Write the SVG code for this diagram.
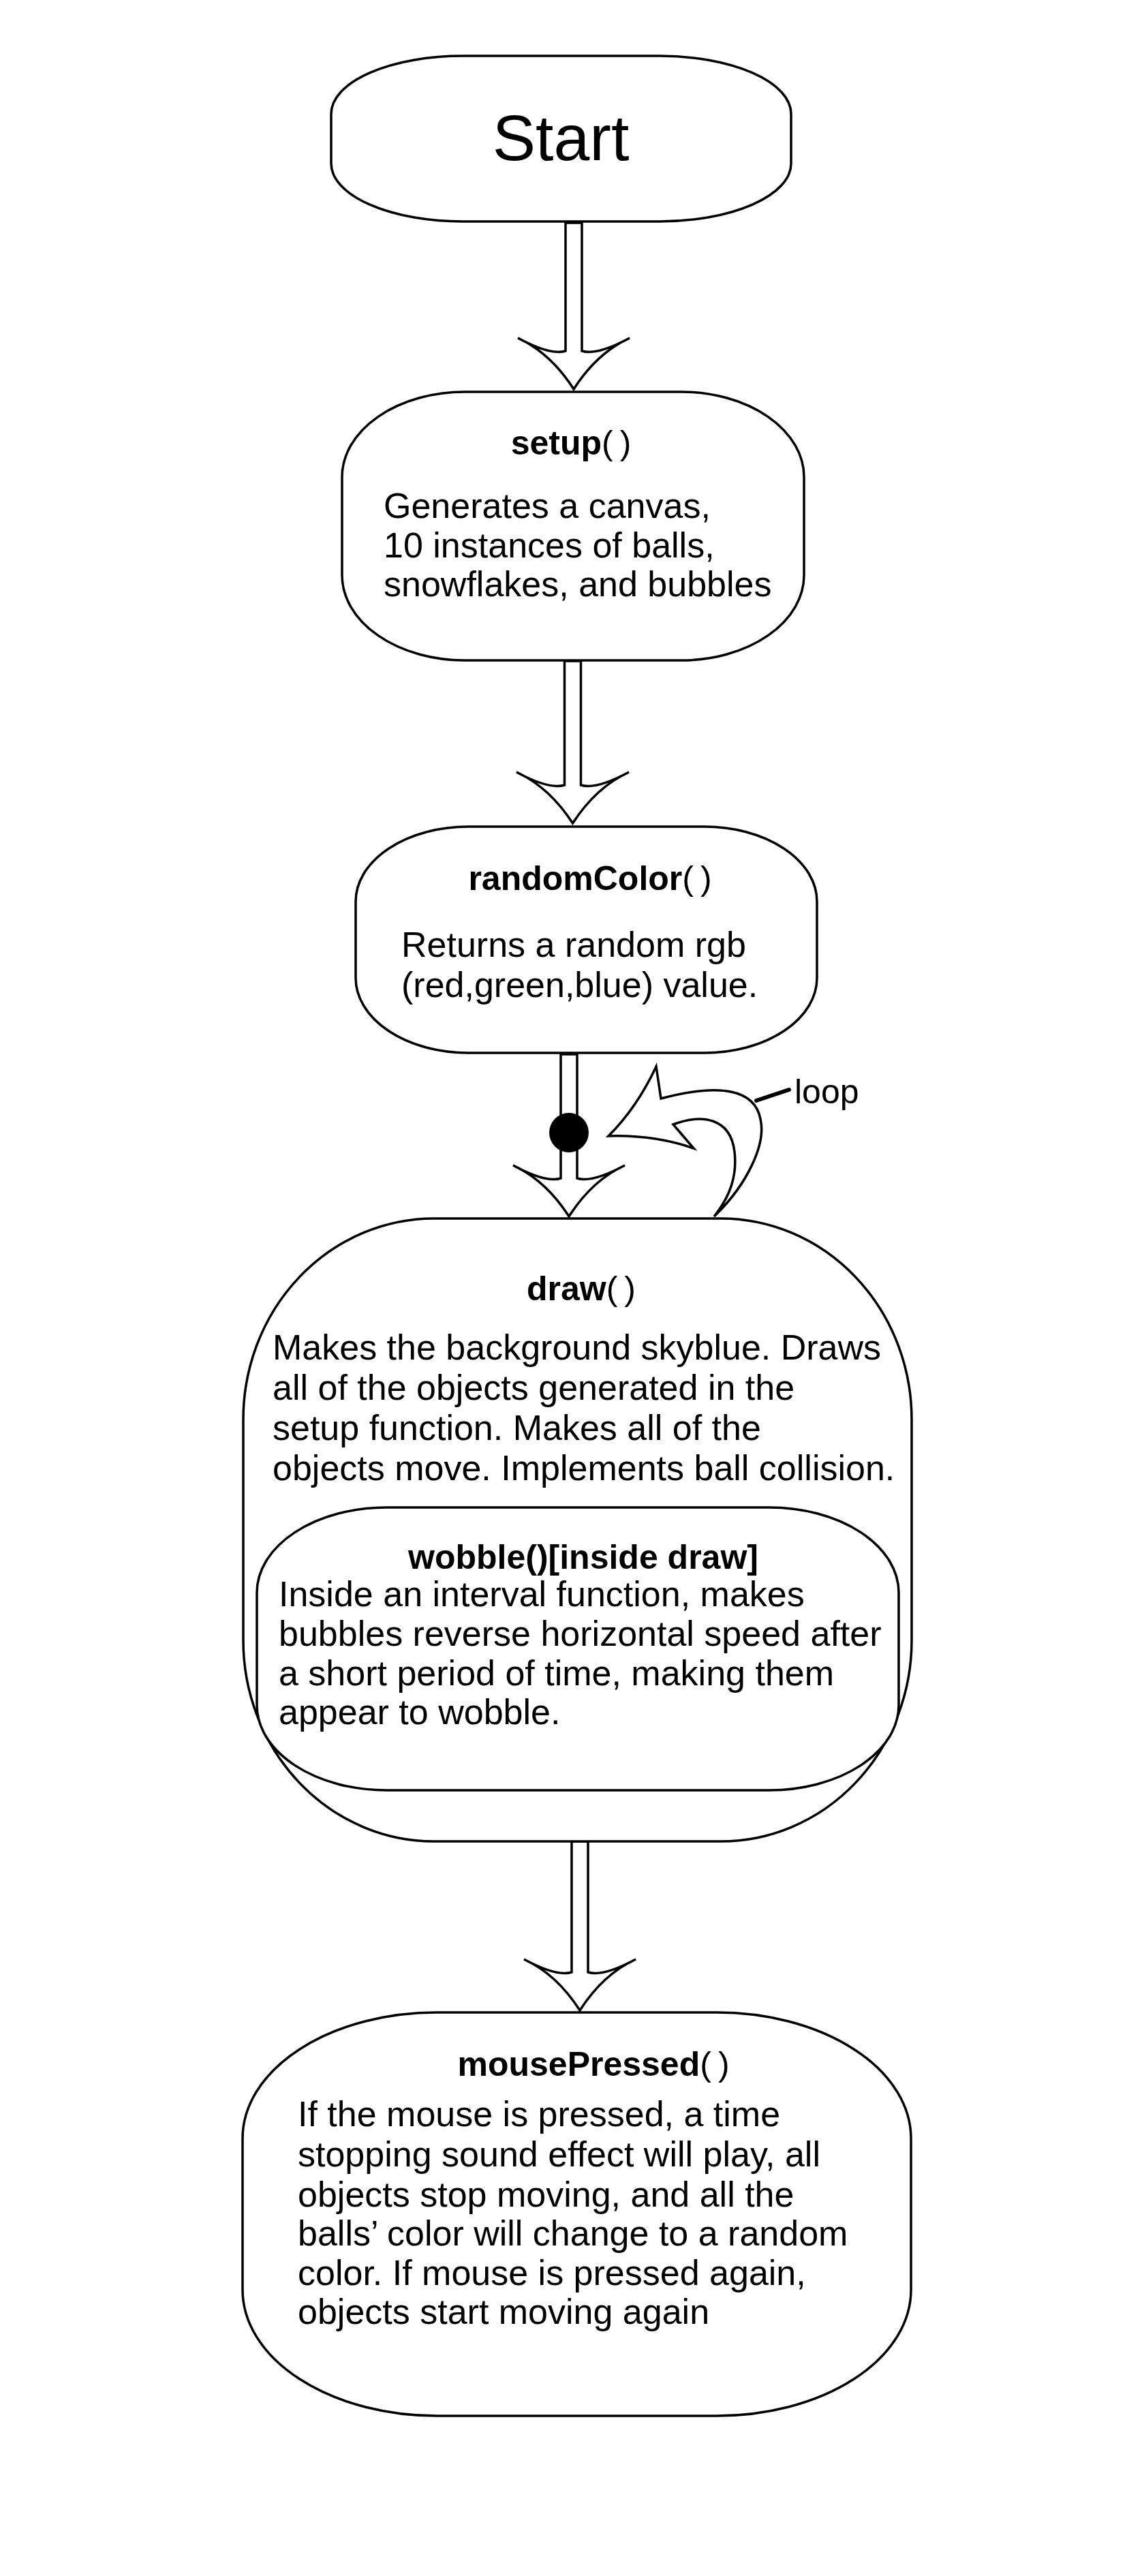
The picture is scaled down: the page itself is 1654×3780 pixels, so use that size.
<svg xmlns="http://www.w3.org/2000/svg" width="1654" height="3780" viewBox="0 0 1654 3780">
<style>
.box{fill:#fff;stroke:#000;stroke-width:3.5}
.arr{fill:#fff;stroke:#000;stroke-width:3.5;stroke-linejoin:miter}
text{font-family:"Liberation Sans",Arial,sans-serif;fill:#000}
.t{font-size:50px;font-weight:bold;text-anchor:middle}
.p{font-weight:normal}
.b{font-size:52px}
</style>
<rect width="1654" height="3780" fill="#fff"/>
<g id="connectors">
<path class="arr" d="M830,327 L830,515 Q808,522 760,496 Q808,518 842,571 Q876,518 924,496 Q876,522 854,515 L854,327 Z"/>
<path class="arr" d="M828.5,970 L828.5,1152 Q806,1159 758,1133 Q806,1155 840.5,1208 Q875,1155 923,1133 Q875,1159 852.5,1152 L852.5,970 Z"/>
<path class="arr" d="M823,1547 L823,1729 Q801,1736 753,1710 Q801,1732 835,1785 Q869,1732 917,1710 Q869,1736 847,1729 L847,1547 Z"/>
<circle cx="835" cy="1662" r="29" fill="#000"/>
<path class="arr" d="M839,2702 L839,2894 Q817,2901 769,2875 Q817,2897 851,2950 Q885,2897 933,2875 Q885,2901 863,2894 L863,2702 Z"/>
<path id="loop-arrow" class="arr" d="M1048,1785 C1095,1740 1125,1680 1116,1642 C1108,1600 1060,1588 970,1612 L963,1565 Q935,1625 893,1667 Q960,1665 1018,1685 L988,1650 C1030,1634 1072,1640 1078,1690 C1082,1725 1072,1755 1048,1785 Z"/>
<line x1="1110" y1="1615" x2="1158" y2="1599" stroke="#000" stroke-width="6" stroke-linecap="round"/>
<text x="1166" y="1619" font-size="50">loop</text>
</g>
<g id="node-start">
<rect class="box" x="486" y="82" width="675" height="243" rx="193" ry="85"/>
<text x="823" y="235" font-size="95" text-anchor="middle">Start</text>
</g>
<g id="node-setup">
<rect class="box" x="502" y="575" width="678" height="394" rx="180" ry="125"/>
<text class="t" x="838" y="667">setup<tspan class="p">(</tspan><tspan class="p" dx="10">)</tspan></text>
<text class="b" x="563" y="760">Generates a canvas,</text>
<text class="b" x="563" y="818">10 instances of balls,</text>
<text class="b" x="563" y="875">snowflakes, and bubbles</text>
</g>
<g id="node-randomColor">
<rect class="box" x="522" y="1213" width="677" height="332" rx="165" ry="110"/>
<text class="t" x="866" y="1306">randomColor<tspan class="p">(</tspan><tspan class="p" dx="10">)</tspan></text>
<text class="b" x="589" y="1404">Returns a random rgb</text>
<text class="b" x="589" y="1463">(red,green,blue) value.</text>
</g>
<g id="node-draw">
<rect class="box" x="357" y="1788" width="981" height="914" rx="280" ry="295"/>
<text class="t" x="853" y="1908">draw<tspan class="p">(</tspan><tspan class="p" dx="10">)</tspan></text>
<text class="b" x="400" y="1995">Makes the background skyblue. Draws</text>
<text class="b" x="400" y="2054">all of the objects generated in the</text>
<text class="b" x="400" y="2113">setup function. Makes all of the</text>
<text class="b" x="400" y="2172">objects move. Implements ball collision.</text>
</g>
<g id="node-wobble">
<rect class="box" x="377" y="2212" width="942" height="415" rx="190" ry="125"/>
<text class="t" x="856" y="2302" font-size="52">wobble()[inside draw]</text>
<text class="b" x="409" y="2357">Inside an interval function, makes</text>
<text class="b" x="409" y="2415">bubbles reverse horizontal speed after</text>
<text class="b" x="409" y="2473">a short period of time, making them</text>
<text class="b" x="409" y="2530">appear to wobble.</text>
</g>
<g id="node-mousePressed">
<rect class="box" x="356" y="2953" width="981" height="592" rx="285" ry="185"/>
<text class="t" x="871" y="3046">mousePressed<tspan class="p">(</tspan><tspan class="p" dx="10">)</tspan></text>
<text class="b" x="437" y="3120">If the mouse is pressed, a time</text>
<text class="b" x="437" y="3179">stopping sound effect will play, all</text>
<text class="b" x="437" y="3238">objects stop moving, and all the</text>
<text class="b" x="437" y="3295">balls’ color will change to a random</text>
<text class="b" x="437" y="3353">color. If mouse is pressed again,</text>
<text class="b" x="437" y="3410">objects start moving again</text>
</g>
</svg>
